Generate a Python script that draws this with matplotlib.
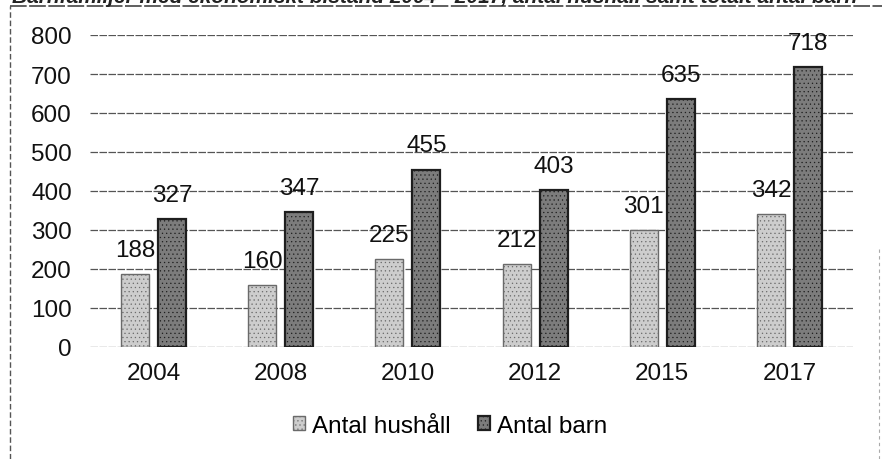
import matplotlib.pyplot as plt
from matplotlib.lines import Line2D
import numpy as np

# data
years = ["2004", "2008", "2010", "2012", "2015", "2017"]
hushall = [188, 160, 225, 212, 301, 342]
barn = [327, 347, 455, 403, 635, 718]
yticks = [0, 100, 200, 300, 400, 500, 600, 700, 800]

plt.rcParams["font.family"] = ["Liberation Sans", "DejaVu Sans"]
plt.rcParams["hatch.linewidth"] = 0.4

fig = plt.figure(figsize=(8.82, 4.6), dpi=100)
ax = fig.add_axes([90 / 882, 1 - 348 / 460, 763 / 882, 312 / 460])

x = np.arange(len(years))
w = 0.22
off = 0.145
fs = 17.5

b1 = ax.bar(x - off, hushall, w, color="#cdcdcd", edgecolor="#6a6a6a",
            linewidth=1.0, hatch="....", label="Antal hushåll", zorder=3)
b2 = ax.bar(x + off, barn, w, color="#7c7c7c", edgecolor="#1e1e1e",
            linewidth=1.6, hatch="....", label="Antal barn", zorder=3)

for bars, vals in ((b1, hushall), (b2, barn)):
    for r, v in zip(bars, vals):
        ax.annotate(str(v), (r.get_x() + r.get_width() / 2, v),
                    xytext=(0, 13), textcoords="offset points",
                    ha="center", va="baseline", fontsize=fs, color="#111",
                    zorder=2)

ax.set_xlim(-0.5, len(years) - 0.5)
ax.set_ylim(0, 800)
ax.set_yticks(yticks)
ax.set_xticks(x)
ax.set_xticklabels(years)
ax.tick_params(axis="both", length=0, labelsize=fs, colors="#111")
ax.tick_params(axis="y", pad=13)
ax.tick_params(axis="x", pad=11)
ax.yaxis.grid(True, color="#555555", linewidth=0.9, linestyle=(0, (6, 1.2)),
              zorder=0)
ax.set_axisbelow(True)
for s in ax.spines.values():
    s.set_visible(False)

fig.legend(handles=[b1, b2], loc="center",
           bbox_to_anchor=(450 / 882, 1 - 427 / 460), ncol=2, frameon=False,
           fontsize=fs, handlelength=0.5, handleheight=0.5,
           handletextpad=0.3, columnspacing=1.1)

# scanned page: frame around the chart and the cut-off caption above it
fig.add_artist(Line2D([10 / 882, 10 / 882], [0, 1 - 7 / 460],
                      transform=fig.transFigure, color="#555",
                      linewidth=1.0, linestyle=(0, (4, 2))))
fig.add_artist(Line2D([10 / 882, 1], [1 - 7 / 460, 1 - 7 / 460],
                      transform=fig.transFigure, color="#444",
                      linewidth=1.2, linestyle=(0, (10, 1.5))))
fig.add_artist(Line2D([879 / 882, 879 / 882], [0, 1 - 250 / 460],
                      transform=fig.transFigure, color="#aaa",
                      linewidth=0.8, linestyle=(0, (3, 3))))
fig.text(12 / 882, 1 - 3 / 460,
         "Barnfamiljer med ekonomiskt bistånd 2004 - 2017, antal hushåll samt totalt antal barn",
         ha="left", va="baseline", fontsize=15, style="italic",
         fontweight="bold", color="#222")

fig.savefig("out.png", dpi=100)
